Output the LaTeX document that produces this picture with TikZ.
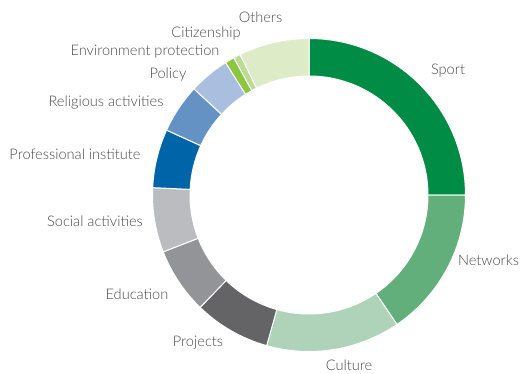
\documentclass[tikz,border=0pt]{standalone}
\usepackage{fontspec}
\setmainfont{Lato Light}
\usetikzlibrary{positioning}
\definecolor{sportgreen}{HTML}{008C44}
\definecolor{networksgreen}{HTML}{62AF7C}
\definecolor{culturegreen}{HTML}{AED3B8}
\definecolor{projectsgray}{HTML}{646466}
\definecolor{educationgray}{HTML}{939497}
\definecolor{socialgray}{HTML}{BBBCBF}
\definecolor{profblue}{HTML}{0065A8}
\definecolor{religiousblue}{HTML}{6592C5}
\definecolor{policyblue}{HTML}{AABFDF}
\definecolor{envgreen}{HTML}{8CC63F}
\definecolor{citizengreen}{HTML}{B9DC97}
\definecolor{othersgreen}{HTML}{DDEBC6}
\definecolor{labelgray}{HTML}{4A4A4C}

\begin{document}
\begin{tikzpicture}[x=1pt,y=1pt,
  lbl/.style={text=labelgray,font=\fontsize{14.6}{16}\selectfont,inner sep=0pt},
  slice/.style={draw=white,line width=1pt}]
  \useasboundingbox (0,0) rectangle (530,373);

  % ring
  \begin{scope}[shift={(309,178)}]
    \foreach \a/\b/\col in {90/0/sportgreen, 0/-55.8/networksgreen,
        -55.8/-105.7/culturegreen, -105.7/-134.1/projectsgray,
        -134.1/-158.7/educationgray, -158.7/-182.7/socialgray,
        177.3/155.5/profblue, 155.5/137.3/religiousblue,
        137.3/122.2/policyblue, 122.2/118.7/envgreen,
        118.7/116.1/citizengreen, 116.1/90/othersgreen}
      \fill[\col,slice] (\a:156.5) arc[start angle=\a,end angle=\b,radius=156.5]
        -- (\b:119) arc[start angle=\b,end angle=\a,radius=119] -- cycle;
  \end{scope}

  % labels
  \node[lbl] (sport)     at (448,302)   {Sport};
  \node[lbl] (networks)  at (488.5,113) {Networks};
  \node[lbl] (culture)   at (349,8)     {Culture};
  \node[lbl] (projects)  at (198,30)    {Projects};
  \node[lbl] (education) at (137,79)    {Education};
  \node[lbl] (social)    at (95,152)    {Social activities};
  \node[lbl] (prof)      at (75,219)    {Professional institute};
  \node[lbl] (religious) at (106,270)   {Religious activities};
  \node[lbl] (policy)    at (168,299)   {Policy};
  \node[lbl] (env)       at (145,321)   {Environment protection};
  \node[lbl] (citizen)   at (206,340)   {Citizenship};
  \node[lbl] (others)    at (260.5,356) {Others};
\end{tikzpicture}
\end{document}
